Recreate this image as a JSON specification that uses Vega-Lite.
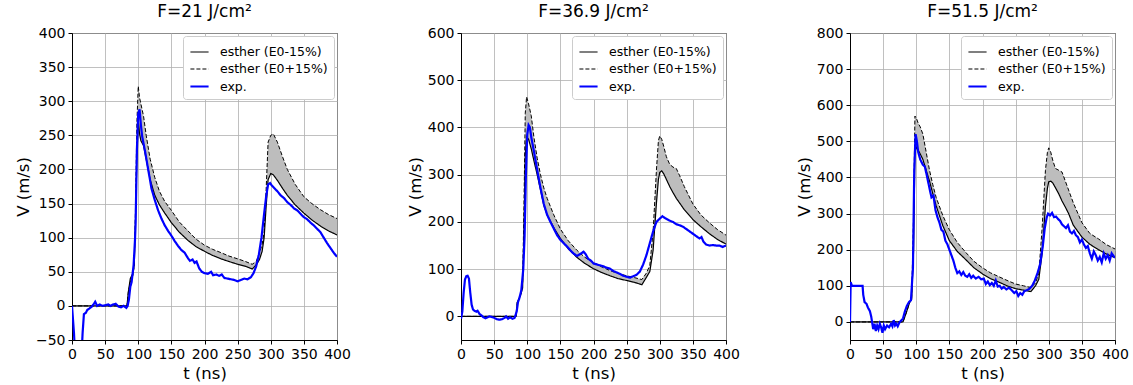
{
"$schema": "https://vega.github.io/schema/vega-lite/v6.json",
"padding": {"left": 14, "top": 2, "right": 5, "bottom": 4},
"spacing": 124,
"bounds": "flush",
"config": {
  "font": "DejaVu Sans",
  "view": {"stroke": "black", "strokeWidth": 1},
  "axis": {"domainColor": "black", "tickColor": "black", "labelColor": "black", "titleColor": "black", "gridColor": "#b0b0b0", "gridWidth": 0.8, "labelFontSize": 14, "titleFontSize": 16.5, "titleFontWeight": "normal", "tickSize": 4, "labelPadding": 3, "labelFont": "DejaVu Sans", "titleFont": "DejaVu Sans", "labelOverlap": false, "labelFlush": false},
  "title": {"fontSize": 17, "fontWeight": "normal", "offset": 5, "font": "DejaVu Sans", "color": "black"},
  "legend": {"orient": "top-right", "offset": 3, "strokeColor": "#cccccc", "fillColor": "white", "padding": 6, "cornerRadius": 3, "labelFontSize": 12.5, "labelFont": "DejaVu Sans", "labelColor": "black", "symbolType": "stroke", "symbolSize": 330, "rowPadding": -2, "labelOffset": 10}
},
"resolve": {"scale": {"y": "independent", "color": "independent", "strokeDash": "independent", "strokeWidth": "independent"}, "legend": {"color": "independent", "strokeDash": "independent", "strokeWidth": "independent"}},
"datasets": {
"p1": [
{"t":0,"s":"esther (E0-15%)","v":0},{"t":83,"s":"esther (E0-15%)","v":0},{"t":85,"s":"esther (E0-15%)","v":20},{"t":88,"s":"esther (E0-15%)","v":40},{"t":92,"s":"esther (E0-15%)","v":48},{"t":94,"s":"esther (E0-15%)","v":60},{"t":96,"s":"esther (E0-15%)","v":130},{"t":98,"s":"esther (E0-15%)","v":220},{"t":100,"s":"esther (E0-15%)","v":272},{"t":102,"s":"esther (E0-15%)","v":252},{"t":104,"s":"esther (E0-15%)","v":242},{"t":108,"s":"esther (E0-15%)","v":235},{"t":112,"s":"esther (E0-15%)","v":215},{"t":118,"s":"esther (E0-15%)","v":185},{"t":125,"s":"esther (E0-15%)","v":162},{"t":132,"s":"esther (E0-15%)","v":148},{"t":140,"s":"esther (E0-15%)","v":136},{"t":150,"s":"esther (E0-15%)","v":122},{"t":162,"s":"esther (E0-15%)","v":108},{"t":175,"s":"esther (E0-15%)","v":96},{"t":187,"s":"esther (E0-15%)","v":87},{"t":200,"s":"esther (E0-15%)","v":80},{"t":212,"s":"esther (E0-15%)","v":74},{"t":225,"s":"esther (E0-15%)","v":69},{"t":237,"s":"esther (E0-15%)","v":65},{"t":250,"s":"esther (E0-15%)","v":61},{"t":262,"s":"esther (E0-15%)","v":58},{"t":272,"s":"esther (E0-15%)","v":54},{"t":278,"s":"esther (E0-15%)","v":60},{"t":283,"s":"esther (E0-15%)","v":68},{"t":287,"s":"esther (E0-15%)","v":80},{"t":290,"s":"esther (E0-15%)","v":100},{"t":293,"s":"esther (E0-15%)","v":145},{"t":296,"s":"esther (E0-15%)","v":185},{"t":300,"s":"esther (E0-15%)","v":194},{"t":304,"s":"esther (E0-15%)","v":192},{"t":310,"s":"esther (E0-15%)","v":184},{"t":318,"s":"esther (E0-15%)","v":172},{"t":325,"s":"esther (E0-15%)","v":162},{"t":337,"s":"esther (E0-15%)","v":148},{"t":350,"s":"esther (E0-15%)","v":136},{"t":362,"s":"esther (E0-15%)","v":126},{"t":375,"s":"esther (E0-15%)","v":117},{"t":387,"s":"esther (E0-15%)","v":110},{"t":400,"s":"esther (E0-15%)","v":104},
{"t":0,"s":"esther (E0+15%)","v":0},{"t":83,"s":"esther (E0+15%)","v":0},{"t":85,"s":"esther (E0+15%)","v":20},{"t":88,"s":"esther (E0+15%)","v":35},{"t":92,"s":"esther (E0+15%)","v":45},{"t":94,"s":"esther (E0+15%)","v":60},{"t":96,"s":"esther (E0+15%)","v":150},{"t":98,"s":"esther (E0+15%)","v":270},{"t":100,"s":"esther (E0+15%)","v":322},{"t":102,"s":"esther (E0+15%)","v":305},{"t":104,"s":"esther (E0+15%)","v":296},{"t":108,"s":"esther (E0+15%)","v":278},{"t":112,"s":"esther (E0+15%)","v":250},{"t":118,"s":"esther (E0+15%)","v":215},{"t":125,"s":"esther (E0+15%)","v":188},{"t":132,"s":"esther (E0+15%)","v":168},{"t":140,"s":"esther (E0+15%)","v":153},{"t":150,"s":"esther (E0+15%)","v":140},{"t":162,"s":"esther (E0+15%)","v":123},{"t":175,"s":"esther (E0+15%)","v":110},{"t":187,"s":"esther (E0+15%)","v":98},{"t":200,"s":"esther (E0+15%)","v":89},{"t":212,"s":"esther (E0+15%)","v":83},{"t":225,"s":"esther (E0+15%)","v":78},{"t":237,"s":"esther (E0+15%)","v":73},{"t":250,"s":"esther (E0+15%)","v":69},{"t":262,"s":"esther (E0+15%)","v":65},{"t":272,"s":"esther (E0+15%)","v":61},{"t":278,"s":"esther (E0+15%)","v":65},{"t":283,"s":"esther (E0+15%)","v":78},{"t":287,"s":"esther (E0+15%)","v":90},{"t":290,"s":"esther (E0+15%)","v":108},{"t":293,"s":"esther (E0+15%)","v":170},{"t":296,"s":"esther (E0+15%)","v":240},{"t":300,"s":"esther (E0+15%)","v":250},{"t":304,"s":"esther (E0+15%)","v":252},{"t":310,"s":"esther (E0+15%)","v":240},{"t":318,"s":"esther (E0+15%)","v":218},{"t":325,"s":"esther (E0+15%)","v":200},{"t":337,"s":"esther (E0+15%)","v":178},{"t":350,"s":"esther (E0+15%)","v":160},{"t":362,"s":"esther (E0+15%)","v":150},{"t":375,"s":"esther (E0+15%)","v":141},{"t":387,"s":"esther (E0+15%)","v":134},{"t":400,"s":"esther (E0+15%)","v":128},
{"t":0,"s":"exp.","v":0},{"t":3,"s":"exp.","v":-40},{"t":5,"s":"exp.","v":-80},{"t":14,"s":"exp.","v":-80},{"t":16,"s":"exp.","v":-40},{"t":18,"s":"exp.","v":-12},{"t":21,"s":"exp.","v":-10},{"t":23,"s":"exp.","v":-6},{"t":26,"s":"exp.","v":-4},{"t":30,"s":"exp.","v":-1},{"t":33,"s":"exp.","v":3},{"t":35,"s":"exp.","v":6},{"t":38,"s":"exp.","v":0},{"t":42,"s":"exp.","v":2},{"t":46,"s":"exp.","v":0},{"t":50,"s":"exp.","v":1},{"t":55,"s":"exp.","v":2},{"t":58,"s":"exp.","v":0},{"t":62,"s":"exp.","v":2},{"t":66,"s":"exp.","v":3},{"t":70,"s":"exp.","v":-1},{"t":74,"s":"exp.","v":-2},{"t":78,"s":"exp.","v":0},{"t":82,"s":"exp.","v":-3},{"t":84,"s":"exp.","v":0},{"t":86,"s":"exp.","v":10},{"t":88,"s":"exp.","v":28},{"t":90,"s":"exp.","v":35},{"t":93,"s":"exp.","v":60},{"t":95,"s":"exp.","v":95},{"t":96,"s":"exp.","v":120},{"t":98,"s":"exp.","v":230},{"t":100,"s":"exp.","v":282},{"t":102,"s":"exp.","v":288},{"t":104,"s":"exp.","v":265},{"t":106,"s":"exp.","v":248},{"t":110,"s":"exp.","v":228},{"t":115,"s":"exp.","v":200},{"t":120,"s":"exp.","v":172},{"t":125,"s":"exp.","v":155},{"t":130,"s":"exp.","v":140},{"t":135,"s":"exp.","v":128},{"t":140,"s":"exp.","v":118},{"t":145,"s":"exp.","v":110},{"t":150,"s":"exp.","v":103},{"t":155,"s":"exp.","v":95},{"t":160,"s":"exp.","v":88},{"t":165,"s":"exp.","v":82},{"t":170,"s":"exp.","v":78},{"t":175,"s":"exp.","v":70},{"t":178,"s":"exp.","v":66},{"t":182,"s":"exp.","v":68},{"t":185,"s":"exp.","v":63},{"t":188,"s":"exp.","v":65},{"t":192,"s":"exp.","v":55},{"t":196,"s":"exp.","v":50},{"t":200,"s":"exp.","v":48},{"t":205,"s":"exp.","v":47},{"t":210,"s":"exp.","v":50},{"t":213,"s":"exp.","v":45},{"t":218,"s":"exp.","v":46},{"t":222,"s":"exp.","v":44},{"t":226,"s":"exp.","v":46},{"t":230,"s":"exp.","v":41},{"t":235,"s":"exp.","v":40},{"t":240,"s":"exp.","v":39},{"t":245,"s":"exp.","v":38},{"t":250,"s":"exp.","v":36},{"t":255,"s":"exp.","v":38},{"t":260,"s":"exp.","v":40},{"t":265,"s":"exp.","v":39},{"t":270,"s":"exp.","v":42},{"t":274,"s":"exp.","v":48},{"t":278,"s":"exp.","v":58},{"t":282,"s":"exp.","v":75},{"t":286,"s":"exp.","v":100},{"t":290,"s":"exp.","v":135},{"t":293,"s":"exp.","v":160},{"t":296,"s":"exp.","v":178},{"t":299,"s":"exp.","v":180},{"t":302,"s":"exp.","v":176},{"t":306,"s":"exp.","v":172},{"t":310,"s":"exp.","v":168},{"t":315,"s":"exp.","v":162},{"t":320,"s":"exp.","v":158},{"t":325,"s":"exp.","v":152},{"t":330,"s":"exp.","v":148},{"t":335,"s":"exp.","v":143},{"t":340,"s":"exp.","v":140},{"t":345,"s":"exp.","v":135},{"t":350,"s":"exp.","v":130},{"t":355,"s":"exp.","v":127},{"t":360,"s":"exp.","v":122},{"t":365,"s":"exp.","v":118},{"t":370,"s":"exp.","v":113},{"t":375,"s":"exp.","v":108},{"t":380,"s":"exp.","v":100},{"t":385,"s":"exp.","v":92},{"t":390,"s":"exp.","v":85},{"t":395,"s":"exp.","v":78},{"t":400,"s":"exp.","v":72}
],
"p2": [
{"t":0,"s":"esther (E0-15%)","v":0},{"t":83,"s":"esther (E0-15%)","v":0},{"t":85,"s":"esther (E0-15%)","v":30},{"t":90,"s":"esther (E0-15%)","v":45},{"t":93,"s":"esther (E0-15%)","v":60},{"t":95,"s":"esther (E0-15%)","v":180},{"t":97,"s":"esther (E0-15%)","v":340},{"t":99,"s":"esther (E0-15%)","v":380},{"t":102,"s":"esther (E0-15%)","v":375},{"t":106,"s":"esther (E0-15%)","v":355},{"t":110,"s":"esther (E0-15%)","v":330},{"t":115,"s":"esther (E0-15%)","v":300},{"t":120,"s":"esther (E0-15%)","v":268},{"t":125,"s":"esther (E0-15%)","v":235},{"t":130,"s":"esther (E0-15%)","v":215},{"t":140,"s":"esther (E0-15%)","v":188},{"t":150,"s":"esther (E0-15%)","v":165},{"t":162,"s":"esther (E0-15%)","v":143},{"t":175,"s":"esther (E0-15%)","v":125},{"t":187,"s":"esther (E0-15%)","v":112},{"t":200,"s":"esther (E0-15%)","v":101},{"t":212,"s":"esther (E0-15%)","v":93},{"t":225,"s":"esther (E0-15%)","v":86},{"t":237,"s":"esther (E0-15%)","v":80},{"t":250,"s":"esther (E0-15%)","v":76},{"t":262,"s":"esther (E0-15%)","v":72},{"t":273,"s":"esther (E0-15%)","v":67},{"t":280,"s":"esther (E0-15%)","v":83},{"t":285,"s":"esther (E0-15%)","v":95},{"t":290,"s":"esther (E0-15%)","v":140},{"t":295,"s":"esther (E0-15%)","v":240},{"t":298,"s":"esther (E0-15%)","v":290},{"t":300,"s":"esther (E0-15%)","v":305},{"t":303,"s":"esther (E0-15%)","v":308},{"t":306,"s":"esther (E0-15%)","v":302},{"t":310,"s":"esther (E0-15%)","v":290},{"t":315,"s":"esther (E0-15%)","v":275},{"t":320,"s":"esther (E0-15%)","v":262},{"t":325,"s":"esther (E0-15%)","v":250},{"t":330,"s":"esther (E0-15%)","v":240},{"t":337,"s":"esther (E0-15%)","v":226},{"t":350,"s":"esther (E0-15%)","v":205},{"t":362,"s":"esther (E0-15%)","v":190},{"t":375,"s":"esther (E0-15%)","v":175},{"t":387,"s":"esther (E0-15%)","v":163},{"t":400,"s":"esther (E0-15%)","v":153},
{"t":0,"s":"esther (E0+15%)","v":0},{"t":83,"s":"esther (E0+15%)","v":0},{"t":85,"s":"esther (E0+15%)","v":30},{"t":90,"s":"esther (E0+15%)","v":45},{"t":93,"s":"esther (E0+15%)","v":70},{"t":95,"s":"esther (E0+15%)","v":230},{"t":97,"s":"esther (E0+15%)","v":430},{"t":99,"s":"esther (E0+15%)","v":465},{"t":102,"s":"esther (E0+15%)","v":450},{"t":106,"s":"esther (E0+15%)","v":425},{"t":110,"s":"esther (E0+15%)","v":380},{"t":115,"s":"esther (E0+15%)","v":335},{"t":120,"s":"esther (E0+15%)","v":300},{"t":125,"s":"esther (E0+15%)","v":272},{"t":130,"s":"esther (E0+15%)","v":250},{"t":140,"s":"esther (E0+15%)","v":215},{"t":150,"s":"esther (E0+15%)","v":185},{"t":162,"s":"esther (E0+15%)","v":160},{"t":175,"s":"esther (E0+15%)","v":140},{"t":187,"s":"esther (E0+15%)","v":125},{"t":200,"s":"esther (E0+15%)","v":114},{"t":212,"s":"esther (E0+15%)","v":105},{"t":225,"s":"esther (E0+15%)","v":97},{"t":237,"s":"esther (E0+15%)","v":91},{"t":250,"s":"esther (E0+15%)","v":86},{"t":262,"s":"esther (E0+15%)","v":82},{"t":273,"s":"esther (E0+15%)","v":78},{"t":280,"s":"esther (E0+15%)","v":92},{"t":285,"s":"esther (E0+15%)","v":108},{"t":290,"s":"esther (E0+15%)","v":180},{"t":295,"s":"esther (E0+15%)","v":310},{"t":298,"s":"esther (E0+15%)","v":372},{"t":300,"s":"esther (E0+15%)","v":382},{"t":303,"s":"esther (E0+15%)","v":375},{"t":306,"s":"esther (E0+15%)","v":360},{"t":310,"s":"esther (E0+15%)","v":338},{"t":315,"s":"esther (E0+15%)","v":322},{"t":320,"s":"esther (E0+15%)","v":316},{"t":325,"s":"esther (E0+15%)","v":313},{"t":330,"s":"esther (E0+15%)","v":298},{"t":337,"s":"esther (E0+15%)","v":275},{"t":350,"s":"esther (E0+15%)","v":238},{"t":362,"s":"esther (E0+15%)","v":215},{"t":375,"s":"esther (E0+15%)","v":198},{"t":387,"s":"esther (E0+15%)","v":184},{"t":400,"s":"esther (E0+15%)","v":172},
{"t":0,"s":"exp.","v":-5},{"t":2,"s":"exp.","v":10},{"t":4,"s":"exp.","v":50},{"t":6,"s":"exp.","v":78},{"t":8,"s":"exp.","v":85},{"t":10,"s":"exp.","v":86},{"t":12,"s":"exp.","v":80},{"t":14,"s":"exp.","v":50},{"t":16,"s":"exp.","v":25},{"t":18,"s":"exp.","v":15},{"t":20,"s":"exp.","v":12},{"t":23,"s":"exp.","v":10},{"t":25,"s":"exp.","v":12},{"t":28,"s":"exp.","v":5},{"t":31,"s":"exp.","v":2},{"t":34,"s":"exp.","v":-2},{"t":37,"s":"exp.","v":-4},{"t":40,"s":"exp.","v":-2},{"t":43,"s":"exp.","v":0},{"t":46,"s":"exp.","v":-1},{"t":50,"s":"exp.","v":-3},{"t":54,"s":"exp.","v":-6},{"t":58,"s":"exp.","v":-7},{"t":62,"s":"exp.","v":-6},{"t":66,"s":"exp.","v":-3},{"t":68,"s":"exp.","v":0},{"t":71,"s":"exp.","v":-5},{"t":74,"s":"exp.","v":-2},{"t":78,"s":"exp.","v":-5},{"t":81,"s":"exp.","v":-3},{"t":84,"s":"exp.","v":10},{"t":86,"s":"exp.","v":30},{"t":88,"s":"exp.","v":38},{"t":91,"s":"exp.","v":55},{"t":94,"s":"exp.","v":100},{"t":96,"s":"exp.","v":170},{"t":98,"s":"exp.","v":300},{"t":100,"s":"exp.","v":385},{"t":102,"s":"exp.","v":405},{"t":104,"s":"exp.","v":400},{"t":106,"s":"exp.","v":380},{"t":110,"s":"exp.","v":350},{"t":115,"s":"exp.","v":310},{"t":120,"s":"exp.","v":272},{"t":125,"s":"exp.","v":238},{"t":130,"s":"exp.","v":215},{"t":135,"s":"exp.","v":200},{"t":140,"s":"exp.","v":186},{"t":145,"s":"exp.","v":172},{"t":150,"s":"exp.","v":162},{"t":155,"s":"exp.","v":155},{"t":160,"s":"exp.","v":148},{"t":165,"s":"exp.","v":140},{"t":170,"s":"exp.","v":133},{"t":175,"s":"exp.","v":128},{"t":180,"s":"exp.","v":132},{"t":185,"s":"exp.","v":137},{"t":188,"s":"exp.","v":132},{"t":192,"s":"exp.","v":122},{"t":196,"s":"exp.","v":118},{"t":200,"s":"exp.","v":112},{"t":205,"s":"exp.","v":110},{"t":210,"s":"exp.","v":108},{"t":215,"s":"exp.","v":106},{"t":220,"s":"exp.","v":103},{"t":225,"s":"exp.","v":101},{"t":230,"s":"exp.","v":96},{"t":235,"s":"exp.","v":93},{"t":240,"s":"exp.","v":90},{"t":245,"s":"exp.","v":86},{"t":250,"s":"exp.","v":84},{"t":255,"s":"exp.","v":82},{"t":260,"s":"exp.","v":85},{"t":265,"s":"exp.","v":88},{"t":270,"s":"exp.","v":95},{"t":275,"s":"exp.","v":110},{"t":280,"s":"exp.","v":130},{"t":285,"s":"exp.","v":155},{"t":290,"s":"exp.","v":180},{"t":295,"s":"exp.","v":200},{"t":300,"s":"exp.","v":207},{"t":304,"s":"exp.","v":212},{"t":308,"s":"exp.","v":208},{"t":312,"s":"exp.","v":205},{"t":316,"s":"exp.","v":202},{"t":320,"s":"exp.","v":200},{"t":325,"s":"exp.","v":195},{"t":330,"s":"exp.","v":193},{"t":335,"s":"exp.","v":190},{"t":340,"s":"exp.","v":185},{"t":345,"s":"exp.","v":180},{"t":350,"s":"exp.","v":175},{"t":355,"s":"exp.","v":170},{"t":360,"s":"exp.","v":165},{"t":363,"s":"exp.","v":168},{"t":366,"s":"exp.","v":158},{"t":370,"s":"exp.","v":152},{"t":375,"s":"exp.","v":150},{"t":380,"s":"exp.","v":151},{"t":385,"s":"exp.","v":150},{"t":390,"s":"exp.","v":150},{"t":395,"s":"exp.","v":147},{"t":400,"s":"exp.","v":150}
],
"p3": [
{"t":0,"s":"esther (E0-15%)","v":0},{"t":80,"s":"esther (E0-15%)","v":0},{"t":85,"s":"esther (E0-15%)","v":26},{"t":90,"s":"esther (E0-15%)","v":54},{"t":93,"s":"esther (E0-15%)","v":62},{"t":96,"s":"esther (E0-15%)","v":200},{"t":98,"s":"esther (E0-15%)","v":470},{"t":100,"s":"esther (E0-15%)","v":484},{"t":103,"s":"esther (E0-15%)","v":475},{"t":106,"s":"esther (E0-15%)","v":465},{"t":110,"s":"esther (E0-15%)","v":450},{"t":115,"s":"esther (E0-15%)","v":420},{"t":120,"s":"esther (E0-15%)","v":390},{"t":125,"s":"esther (E0-15%)","v":355},{"t":130,"s":"esther (E0-15%)","v":322},{"t":140,"s":"esther (E0-15%)","v":267},{"t":150,"s":"esther (E0-15%)","v":225},{"t":162,"s":"esther (E0-15%)","v":195},{"t":175,"s":"esther (E0-15%)","v":172},{"t":187,"s":"esther (E0-15%)","v":150},{"t":200,"s":"esther (E0-15%)","v":133},{"t":212,"s":"esther (E0-15%)","v":120},{"t":225,"s":"esther (E0-15%)","v":110},{"t":237,"s":"esther (E0-15%)","v":100},{"t":250,"s":"esther (E0-15%)","v":92},{"t":262,"s":"esther (E0-15%)","v":88},{"t":273,"s":"esther (E0-15%)","v":84},{"t":280,"s":"esther (E0-15%)","v":100},{"t":285,"s":"esther (E0-15%)","v":118},{"t":290,"s":"esther (E0-15%)","v":190},{"t":295,"s":"esther (E0-15%)","v":320},{"t":298,"s":"esther (E0-15%)","v":370},{"t":300,"s":"esther (E0-15%)","v":388},{"t":303,"s":"esther (E0-15%)","v":390},{"t":306,"s":"esther (E0-15%)","v":385},{"t":310,"s":"esther (E0-15%)","v":372},{"t":315,"s":"esther (E0-15%)","v":355},{"t":320,"s":"esther (E0-15%)","v":335},{"t":325,"s":"esther (E0-15%)","v":318},{"t":330,"s":"esther (E0-15%)","v":300},{"t":337,"s":"esther (E0-15%)","v":268},{"t":350,"s":"esther (E0-15%)","v":235},{"t":362,"s":"esther (E0-15%)","v":215},{"t":375,"s":"esther (E0-15%)","v":200},{"t":387,"s":"esther (E0-15%)","v":188},{"t":400,"s":"esther (E0-15%)","v":178},
{"t":0,"s":"esther (E0+15%)","v":0},{"t":80,"s":"esther (E0+15%)","v":0},{"t":85,"s":"esther (E0+15%)","v":26},{"t":90,"s":"esther (E0+15%)","v":54},{"t":93,"s":"esther (E0+15%)","v":65},{"t":96,"s":"esther (E0+15%)","v":300},{"t":98,"s":"esther (E0+15%)","v":570},{"t":100,"s":"esther (E0+15%)","v":565},{"t":103,"s":"esther (E0+15%)","v":550},{"t":106,"s":"esther (E0+15%)","v":540},{"t":110,"s":"esther (E0+15%)","v":520},{"t":115,"s":"esther (E0+15%)","v":470},{"t":120,"s":"esther (E0+15%)","v":420},{"t":125,"s":"esther (E0+15%)","v":380},{"t":130,"s":"esther (E0+15%)","v":345},{"t":140,"s":"esther (E0+15%)","v":295},{"t":150,"s":"esther (E0+15%)","v":255},{"t":162,"s":"esther (E0+15%)","v":220},{"t":175,"s":"esther (E0+15%)","v":192},{"t":187,"s":"esther (E0+15%)","v":168},{"t":200,"s":"esther (E0+15%)","v":150},{"t":212,"s":"esther (E0+15%)","v":136},{"t":225,"s":"esther (E0+15%)","v":125},{"t":237,"s":"esther (E0+15%)","v":115},{"t":250,"s":"esther (E0+15%)","v":105},{"t":262,"s":"esther (E0+15%)","v":100},{"t":273,"s":"esther (E0+15%)","v":95},{"t":280,"s":"esther (E0+15%)","v":108},{"t":285,"s":"esther (E0+15%)","v":135},{"t":290,"s":"esther (E0+15%)","v":260},{"t":295,"s":"esther (E0+15%)","v":420},{"t":298,"s":"esther (E0+15%)","v":470},{"t":300,"s":"esther (E0+15%)","v":482},{"t":303,"s":"esther (E0+15%)","v":470},{"t":306,"s":"esther (E0+15%)","v":448},{"t":310,"s":"esther (E0+15%)","v":425},{"t":315,"s":"esther (E0+15%)","v":420},{"t":320,"s":"esther (E0+15%)","v":415},{"t":325,"s":"esther (E0+15%)","v":390},{"t":330,"s":"esther (E0+15%)","v":365},{"t":337,"s":"esther (E0+15%)","v":330},{"t":350,"s":"esther (E0+15%)","v":275},{"t":362,"s":"esther (E0+15%)","v":245},{"t":375,"s":"esther (E0+15%)","v":230},{"t":387,"s":"esther (E0+15%)","v":214},{"t":400,"s":"esther (E0+15%)","v":202},
{"t":0,"s":"exp.","v":0},{"t":1,"s":"exp.","v":110},{"t":3,"s":"exp.","v":100},{"t":8,"s":"exp.","v":100},{"t":12,"s":"exp.","v":100},{"t":17,"s":"exp.","v":100},{"t":19,"s":"exp.","v":100},{"t":20,"s":"exp.","v":75},{"t":22,"s":"exp.","v":55},{"t":25,"s":"exp.","v":50},{"t":27,"s":"exp.","v":40},{"t":30,"s":"exp.","v":30},{"t":32,"s":"exp.","v":15},{"t":35,"s":"exp.","v":-20},{"t":37,"s":"exp.","v":-5},{"t":39,"s":"exp.","v":-25},{"t":41,"s":"exp.","v":-10},{"t":43,"s":"exp.","v":-20},{"t":45,"s":"exp.","v":-5},{"t":47,"s":"exp.","v":-15},{"t":49,"s":"exp.","v":-30},{"t":51,"s":"exp.","v":-10},{"t":53,"s":"exp.","v":-20},{"t":56,"s":"exp.","v":-10},{"t":59,"s":"exp.","v":-15},{"t":62,"s":"exp.","v":-5},{"t":64,"s":"exp.","v":-12},{"t":66,"s":"exp.","v":5},{"t":68,"s":"exp.","v":-10},{"t":70,"s":"exp.","v":-5},{"t":72,"s":"exp.","v":-12},{"t":75,"s":"exp.","v":0},{"t":78,"s":"exp.","v":5},{"t":80,"s":"exp.","v":10},{"t":83,"s":"exp.","v":30},{"t":86,"s":"exp.","v":45},{"t":89,"s":"exp.","v":55},{"t":92,"s":"exp.","v":60},{"t":95,"s":"exp.","v":150},{"t":97,"s":"exp.","v":420},{"t":99,"s":"exp.","v":520},{"t":101,"s":"exp.","v":500},{"t":103,"s":"exp.","v":470},{"t":106,"s":"exp.","v":450},{"t":110,"s":"exp.","v":435},{"t":113,"s":"exp.","v":430},{"t":116,"s":"exp.","v":405},{"t":120,"s":"exp.","v":370},{"t":123,"s":"exp.","v":345},{"t":126,"s":"exp.","v":350},{"t":129,"s":"exp.","v":310},{"t":132,"s":"exp.","v":290},{"t":135,"s":"exp.","v":275},{"t":138,"s":"exp.","v":255},{"t":141,"s":"exp.","v":250},{"t":144,"s":"exp.","v":225},{"t":147,"s":"exp.","v":215},{"t":150,"s":"exp.","v":200},{"t":153,"s":"exp.","v":185},{"t":156,"s":"exp.","v":170},{"t":159,"s":"exp.","v":150},{"t":162,"s":"exp.","v":135},{"t":165,"s":"exp.","v":140},{"t":168,"s":"exp.","v":130},{"t":171,"s":"exp.","v":138},{"t":174,"s":"exp.","v":128},{"t":177,"s":"exp.","v":125},{"t":180,"s":"exp.","v":132},{"t":183,"s":"exp.","v":122},{"t":186,"s":"exp.","v":128},{"t":190,"s":"exp.","v":120},{"t":194,"s":"exp.","v":125},{"t":198,"s":"exp.","v":118},{"t":202,"s":"exp.","v":120},{"t":205,"s":"exp.","v":105},{"t":208,"s":"exp.","v":112},{"t":211,"s":"exp.","v":102},{"t":214,"s":"exp.","v":108},{"t":217,"s":"exp.","v":100},{"t":220,"s":"exp.","v":115},{"t":223,"s":"exp.","v":98},{"t":226,"s":"exp.","v":100},{"t":229,"s":"exp.","v":92},{"t":232,"s":"exp.","v":97},{"t":236,"s":"exp.","v":90},{"t":240,"s":"exp.","v":95},{"t":244,"s":"exp.","v":88},{"t":248,"s":"exp.","v":80},{"t":251,"s":"exp.","v":85},{"t":254,"s":"exp.","v":72},{"t":257,"s":"exp.","v":80},{"t":260,"s":"exp.","v":75},{"t":263,"s":"exp.","v":85},{"t":267,"s":"exp.","v":88},{"t":271,"s":"exp.","v":92},{"t":275,"s":"exp.","v":100},{"t":279,"s":"exp.","v":115},{"t":283,"s":"exp.","v":135},{"t":287,"s":"exp.","v":160},{"t":291,"s":"exp.","v":210},{"t":294,"s":"exp.","v":260},{"t":297,"s":"exp.","v":290},{"t":299,"s":"exp.","v":300},{"t":302,"s":"exp.","v":295},{"t":305,"s":"exp.","v":302},{"t":308,"s":"exp.","v":290},{"t":311,"s":"exp.","v":292},{"t":314,"s":"exp.","v":285},{"t":317,"s":"exp.","v":280},{"t":320,"s":"exp.","v":270},{"t":323,"s":"exp.","v":265},{"t":326,"s":"exp.","v":260},{"t":329,"s":"exp.","v":268},{"t":332,"s":"exp.","v":250},{"t":335,"s":"exp.","v":245},{"t":338,"s":"exp.","v":252},{"t":341,"s":"exp.","v":240},{"t":344,"s":"exp.","v":235},{"t":347,"s":"exp.","v":220},{"t":350,"s":"exp.","v":228},{"t":353,"s":"exp.","v":215},{"t":356,"s":"exp.","v":205},{"t":359,"s":"exp.","v":210},{"t":362,"s":"exp.","v":190},{"t":365,"s":"exp.","v":175},{"t":368,"s":"exp.","v":195},{"t":371,"s":"exp.","v":185},{"t":374,"s":"exp.","v":170},{"t":377,"s":"exp.","v":180},{"t":380,"s":"exp.","v":165},{"t":383,"s":"exp.","v":190},{"t":386,"s":"exp.","v":175},{"t":389,"s":"exp.","v":185},{"t":392,"s":"exp.","v":170},{"t":395,"s":"exp.","v":190},{"t":398,"s":"exp.","v":182},{"t":400,"s":"exp.","v":178}
]
},
"hconcat": [
{
 "width": 265, "height": 307,
 "title": "F=21 J/cm²",
 "layer": [
  {"data": {"name": "p1"},
   "transform": [{"filter": "datum.s != 'exp.'"}, {"pivot": "s", "value": "v", "groupby": ["t"]}],
   "mark": {"type": "area", "color": "#bdbdbd", "clip": true},
   "encoding": {
     "x": {"field": "t", "type": "quantitative", "title": "t (ns)", "scale": {"domain": [0, 400], "nice": false}, "axis": {"values": [0,50,100,150,200,250,300,350,400]}},
     "y": {"field": "esther (E0-15%)", "type": "quantitative", "title": "V (m/s)", "scale": {"domain": [-50, 400], "nice": false, "zero": false}, "axis": {"values": [-50,0,50,100,150,200,250,300,350,400]}},
     "y2": {"field": "esther (E0+15%)"}}},
  {"data": {"name": "p1"},
   "mark": {"type": "line", "clip": true},
   "encoding": {
     "x": {"field": "t", "type": "quantitative", "title": "t (ns)", "scale": {"domain": [0, 400], "nice": false}, "axis": {"values": [0,50,100,150,200,250,300,350,400]}},
     "y": {"field": "v", "type": "quantitative", "title": "V (m/s)", "scale": {"domain": [-50, 400], "nice": false, "zero": false}, "axis": {"values": [-50,0,50,100,150,200,250,300,350,400]}},
     "color": {"field": "s", "type": "nominal", "title": null, "scale": {"domain": ["esther (E0-15%)", "esther (E0+15%)", "exp."], "range": ["black", "black", "#0000ff"]}},
     "strokeDash": {"field": "s", "type": "nominal", "title": null, "scale": {"domain": ["esther (E0-15%)", "esther (E0+15%)", "exp."], "range": [[1, 0], [4, 2], [1, 0]]}},
     "strokeWidth": {"field": "s", "type": "nominal", "title": null, "scale": {"type": "ordinal", "domain": ["esther (E0-15%)", "esther (E0+15%)", "exp."], "range": [1.2, 1, 2.2]}}}}
 ]
},
{
 "width": 265, "height": 307,
 "title": "F=36.9 J/cm²",
 "layer": [
  {"data": {"name": "p2"},
   "transform": [{"filter": "datum.s != 'exp.'"}, {"pivot": "s", "value": "v", "groupby": ["t"]}],
   "mark": {"type": "area", "color": "#bdbdbd", "clip": true},
   "encoding": {
     "x": {"field": "t", "type": "quantitative", "title": "t (ns)", "scale": {"domain": [0, 400], "nice": false}, "axis": {"values": [0,50,100,150,200,250,300,350,400]}},
     "y": {"field": "esther (E0-15%)", "type": "quantitative", "title": "V (m/s)", "scale": {"domain": [-50, 600], "nice": false, "zero": false}, "axis": {"values": [0,100,200,300,400,500,600]}},
     "y2": {"field": "esther (E0+15%)"}}},
  {"data": {"name": "p2"},
   "mark": {"type": "line", "clip": true},
   "encoding": {
     "x": {"field": "t", "type": "quantitative", "title": "t (ns)", "scale": {"domain": [0, 400], "nice": false}, "axis": {"values": [0,50,100,150,200,250,300,350,400]}},
     "y": {"field": "v", "type": "quantitative", "title": "V (m/s)", "scale": {"domain": [-50, 600], "nice": false, "zero": false}, "axis": {"values": [0,100,200,300,400,500,600]}},
     "color": {"field": "s", "type": "nominal", "title": null, "scale": {"domain": ["esther (E0-15%)", "esther (E0+15%)", "exp."], "range": ["black", "black", "#0000ff"]}},
     "strokeDash": {"field": "s", "type": "nominal", "title": null, "scale": {"domain": ["esther (E0-15%)", "esther (E0+15%)", "exp."], "range": [[1, 0], [4, 2], [1, 0]]}},
     "strokeWidth": {"field": "s", "type": "nominal", "title": null, "scale": {"type": "ordinal", "domain": ["esther (E0-15%)", "esther (E0+15%)", "exp."], "range": [1.2, 1, 2.2]}}}}
 ]
},
{
 "width": 265, "height": 307,
 "title": "F=51.5 J/cm²",
 "layer": [
  {"data": {"name": "p3"},
   "transform": [{"filter": "datum.s != 'exp.'"}, {"pivot": "s", "value": "v", "groupby": ["t"]}],
   "mark": {"type": "area", "color": "#bdbdbd", "clip": true},
   "encoding": {
     "x": {"field": "t", "type": "quantitative", "title": "t (ns)", "scale": {"domain": [0, 400], "nice": false}, "axis": {"values": [0,50,100,150,200,250,300,350,400]}},
     "y": {"field": "esther (E0-15%)", "type": "quantitative", "title": "V (m/s)", "scale": {"domain": [-50, 800], "nice": false, "zero": false}, "axis": {"values": [0,100,200,300,400,500,600,700,800]}},
     "y2": {"field": "esther (E0+15%)"}}},
  {"data": {"name": "p3"},
   "mark": {"type": "line", "clip": true},
   "encoding": {
     "x": {"field": "t", "type": "quantitative", "title": "t (ns)", "scale": {"domain": [0, 400], "nice": false}, "axis": {"values": [0,50,100,150,200,250,300,350,400]}},
     "y": {"field": "v", "type": "quantitative", "title": "V (m/s)", "scale": {"domain": [-50, 800], "nice": false, "zero": false}, "axis": {"values": [0,100,200,300,400,500,600,700,800]}},
     "color": {"field": "s", "type": "nominal", "title": null, "scale": {"domain": ["esther (E0-15%)", "esther (E0+15%)", "exp."], "range": ["black", "black", "#0000ff"]}},
     "strokeDash": {"field": "s", "type": "nominal", "title": null, "scale": {"domain": ["esther (E0-15%)", "esther (E0+15%)", "exp."], "range": [[1, 0], [4, 2], [1, 0]]}},
     "strokeWidth": {"field": "s", "type": "nominal", "title": null, "scale": {"type": "ordinal", "domain": ["esther (E0-15%)", "esther (E0+15%)", "exp."], "range": [1.2, 1, 2.2]}}}}
 ]
}
]
}
